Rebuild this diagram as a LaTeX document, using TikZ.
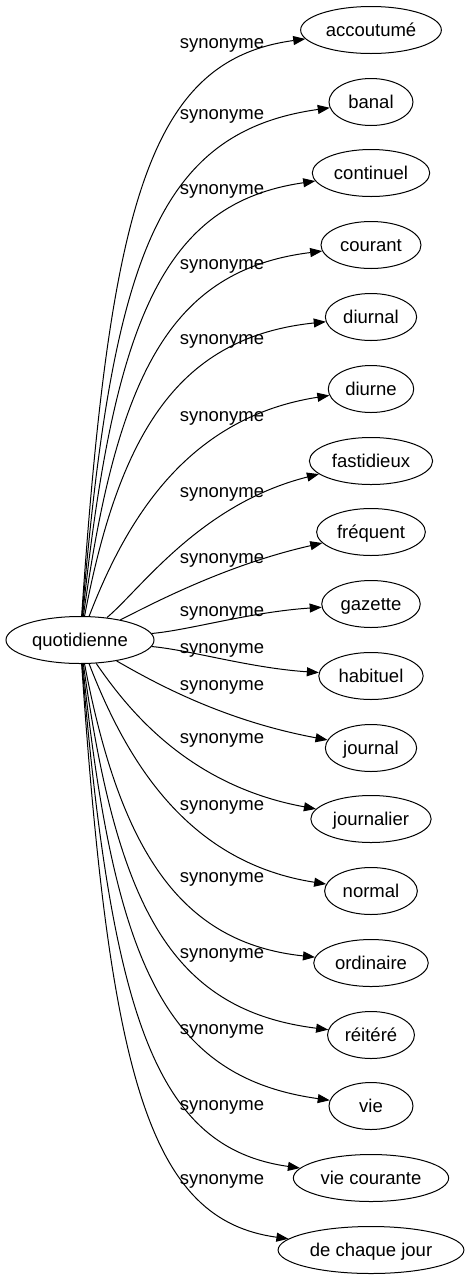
\documentclass[tikz,border=0pt]{standalone}
\usepackage{fontspec}
\setmainfont{Liberation Sans}
\usetikzlibrary{arrows.meta,shapes.geometric}

\begin{document}
\begin{tikzpicture}[x=1pt,y=-1pt]
    \tikzstyle{word}=[draw,ellipse,line width=1pt,inner xsep=4.5pt,minimum width=84pt,minimum height=47pt,text height=13pt,text depth=1pt,font=\fontsize{18.5}{22}\selectfont]
    \tikzstyle{syn}=[anchor=base,inner sep=0pt,font=\fontsize{18.5}{22}\selectfont]
    \tikzstyle{synedge}=[line width=1pt,-{Triangle[length=12pt,width=9pt]}]
    \useasboundingbox (0,0) rectangle (467,1283);
    % source and targets
    \node[word] (q) at (80,640) {quotidienne};
    \node[word] (acc) at (371,30) {accoutumé};
    \node[word] (banal) at (371,102) {banal};
    \node[word] (cont) at (371,173) {continuel};
    \node[word] (cour) at (371,245) {courant};
    \node[word] (diurnal) at (371,317) {diurnal};
    \node[word] (diurne) at (371,389) {diurne};
    \node[word] (fast) at (371,461) {fastidieux};
    \node[word] (freq) at (371,532) {fréquent};
    \node[word] (gaz) at (371,604) {gazette};
    \node[word] (hab) at (371,676) {habituel};
    \node[word] (journal) at (371,748) {journal};
    \node[word] (journalier) at (371,819) {journalier};
    \node[word] (normal) at (371,891) {normal};
    \node[word] (ord) at (371,963) {ordinaire};
    \node[word] (reit) at (371,1035) {réitéré};
    \node[word] (vie) at (371,1106) {vie};
    \node[word] (viec) at (371,1178) {vie courante};
    \node[word] (jour) at (371,1250) {de chaque jour};
    % edge labels
    \node[syn] (s1) at (222,48) {synonyme};
    \node[syn] (s2) at (222,119) {synonyme};
    \node[syn] (s3) at (222,194) {synonyme};
    \node[syn] (s4) at (222,269) {synonyme};
    \node[syn] (s5) at (222,344) {synonyme};
    \node[syn] (s6) at (222,421) {synonyme};
    \node[syn] (s7) at (222,497) {synonyme};
    \node[syn] (s8) at (222,563) {synonyme};
    \node[syn] (s9) at (222,616) {synonyme};
    \node[syn] (s10) at (222,653) {synonyme};
    \node[syn] (s11) at (222,690) {synonyme};
    \node[syn] (s12) at (222,743) {synonyme};
    \node[syn] (s13) at (222,810) {synonyme};
    \node[syn] (s14) at (222,882) {synonyme};
    \node[syn] (s15) at (222,958) {synonyme};
    \node[syn] (s16) at (222,1034) {synonyme};
    \node[syn] (s17) at (222,1110) {synonyme};
    \node[syn] (s18) at (222,1184) {synonyme};
    % edges
    \draw[synedge] (q) .. controls (110,200) and (150,60) .. (acc);
    \draw[synedge] (q) .. controls (112,260) and (157,132) .. (banal);
    \draw[synedge] (q) .. controls (114,320) and (163,203) .. (cont);
    \draw[synedge] (q) .. controls (117,375) and (170,270) .. (cour);
    \draw[synedge] (q) .. controls (120,430) and (180,337) .. (diurnal);
    \draw[synedge] (q) .. controls (128,515) and (190,417) .. (diurne);
    \draw[synedge] (q) .. controls (140,590) and (200,504) .. (fast);
    \draw[synedge] (q) .. controls (150,605) and (225,565) .. (freq);
    \draw[synedge] (q) .. controls (190,630) and (250,612) .. (gaz);
    \draw[synedge] (q) .. controls (190,650) and (250,668) .. (hab);
    \draw[synedge] (q) .. controls (150,680) and (220,720) .. (journal);
    \draw[synedge] (q) .. controls (125,705) and (185,785) .. (journalier);
    \draw[synedge] (q) .. controls (128,765) and (190,863) .. (normal);
    \draw[synedge] (q) .. controls (120,850) and (180,943) .. (ord);
    \draw[synedge] (q) .. controls (117,905) and (170,1010) .. (reit);
    \draw[synedge] (q) .. controls (114,960) and (163,1077) .. (vie);
    \draw[synedge] (q) .. controls (112,1020) and (157,1148) .. (viec);
    \draw[synedge] (q) .. controls (110,1080) and (150,1220) .. (jour);
\end{tikzpicture}
\end{document}
